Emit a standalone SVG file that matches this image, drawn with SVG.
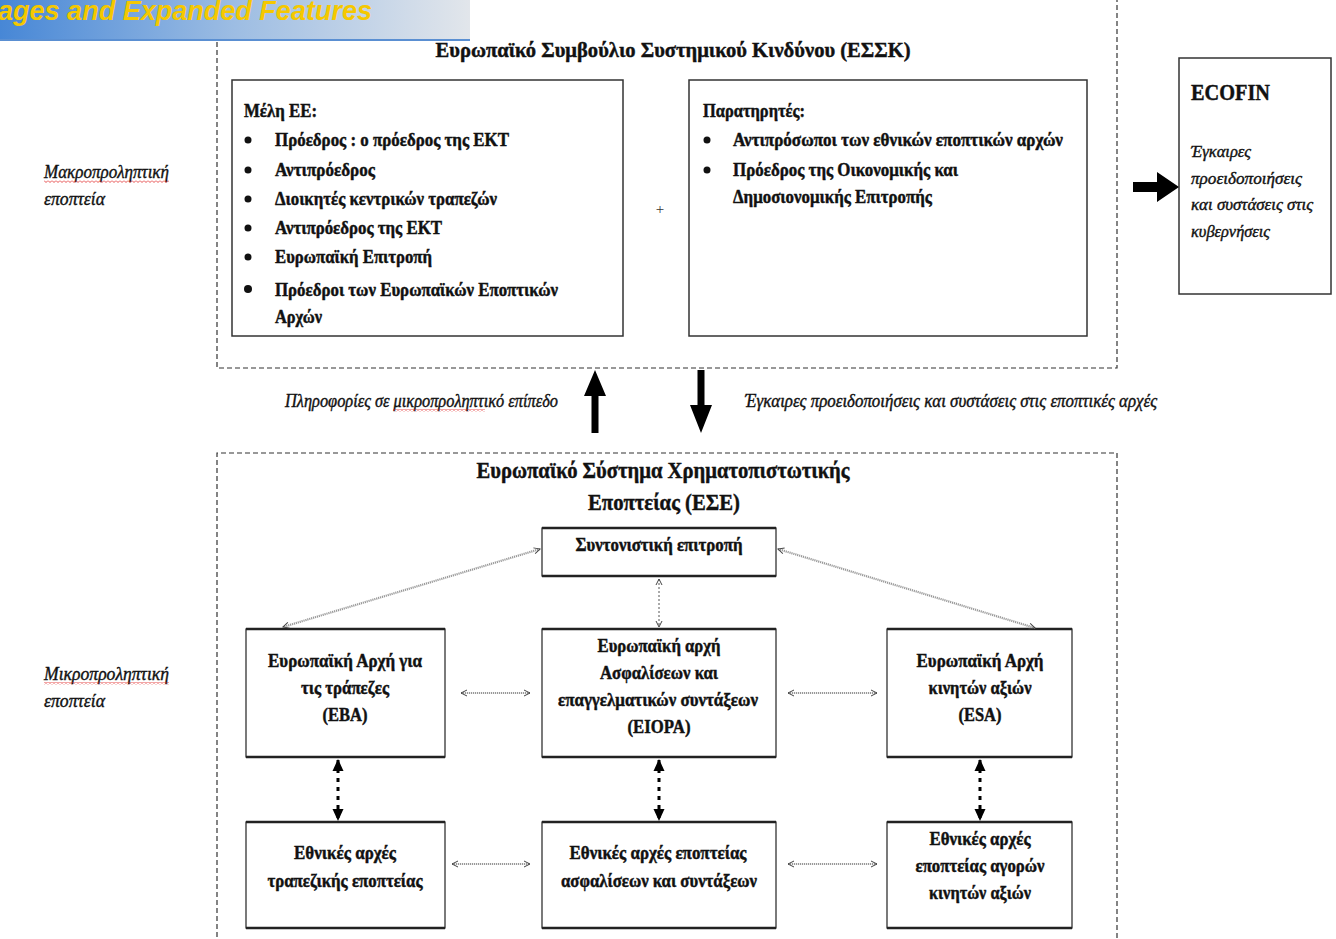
<svg xmlns="http://www.w3.org/2000/svg" width="1336" height="939" viewBox="0 0 1336 939">
<defs>
<linearGradient id="bn" x1="0" y1="0" x2="1" y2="0">
<stop offset="0" stop-color="#4787d6"/>
<stop offset="0.5" stop-color="#9dbde3"/>
<stop offset="1" stop-color="#e2e6eb"/>
</linearGradient>
<pattern id="wv" x="0" y="0" width="4" height="3" patternUnits="userSpaceOnUse">
<path d="M0,0.5 L2,2.5 L4,0.5" fill="none" stroke="#e02020" stroke-width="0.8"/>
</pattern>
<marker id="oa" viewBox="0 0 8 8" refX="7" refY="4" markerWidth="8" markerHeight="8" markerUnits="userSpaceOnUse" orient="auto-start-reverse">
<path d="M1,1 L7,4 L1,7" fill="none" stroke="#444" stroke-width="1"/>
</marker>
<marker id="fa" viewBox="0 0 12 14" refX="11" refY="6" markerWidth="12" markerHeight="14" markerUnits="userSpaceOnUse" orient="auto-start-reverse">
<path d="M0,0.5 L12,6 L0,11.5 Z" fill="#000"/>
</marker>
</defs>
<style>
.dash{fill:none;stroke:#333;stroke-width:1.2;stroke-dasharray:5 3}
.box{fill:#fff;stroke:#333;stroke-width:1.5}
.bx{fill:#fff;stroke:#222;stroke-width:1.2}
.edge{stroke:#222;stroke-width:2.5}
.t{font-family:"Liberation Serif","DejaVu Serif",serif;font-weight:bold;fill:#111;stroke:#111;stroke-width:0.45}
.s19{font-size:19px}
.c{text-anchor:middle}
.it{font-family:"Liberation Serif","DejaVu Serif",serif;font-style:italic;fill:#111;stroke:#111;stroke-width:0.4}
.bul{fill:#111}
.dot{fill:none;stroke:#999;stroke-width:2.2;stroke-dasharray:1.2 0.8}
.bold{fill:none;stroke:#000;stroke-width:3;stroke-dasharray:4 5}
.wave{fill:url(#wv)}
</style>
<rect width="1336" height="939" fill="#fff"/>

<g id="banner">
<rect x="0" y="0" width="470" height="40" fill="url(#bn)"/>
<rect x="0" y="39" width="470" height="2" fill="#5a8fd2"/>
<text x="-2" y="20" font-family="Liberation Sans, Arial, sans-serif" font-weight="bold" font-style="italic" font-size="27" fill="#f5c800" textLength="374" lengthAdjust="spacingAndGlyphs">ages and Expanded Features</text>
</g>

<g id="esrb-frame">
<path class="dash" d="M217,42 L217,368 L1117,368 L1117,0"/>
<text class="t c" x="673" y="57" font-size="22" textLength="475" lengthAdjust="spacingAndGlyphs">Ευρωπαϊκό Συμβούλιο Συστημικού Κινδύνου (ΕΣΣΚ)</text>
</g>

<g id="macro-label">
<text class="it" x="44" y="178" font-size="19" textLength="125" lengthAdjust="spacingAndGlyphs">Μακροπροληπτική</text>
<text class="it" x="44" y="205" font-size="19" textLength="61" lengthAdjust="spacingAndGlyphs">εποπτεία</text>
<rect class="wave" x="44" y="180" width="125" height="3"/>
</g>

<g id="members">
<rect class="box" x="232" y="80" width="391" height="256"/>
<text class="t s19" x="244" y="117" textLength="73" lengthAdjust="spacingAndGlyphs">Μέλη ΕΕ:</text>
<circle class="bul" cx="248" cy="140" r="3.5"/>
<circle class="bul" cx="248" cy="170" r="3.5"/>
<circle class="bul" cx="248" cy="199" r="3.5"/>
<circle class="bul" cx="248" cy="228" r="3.5"/>
<circle class="bul" cx="248" cy="257" r="3.5"/>
<circle class="bul" cx="248" cy="289" r="4"/>
<text class="t s19" x="275" y="146" textLength="234" lengthAdjust="spacingAndGlyphs">Πρόεδρος : ο πρόεδρος της ΕΚΤ</text>
<text class="t s19" x="275" y="176" textLength="100" lengthAdjust="spacingAndGlyphs">Αντιπρόεδρος</text>
<text class="t s19" x="275" y="205" textLength="222" lengthAdjust="spacingAndGlyphs">Διοικητές κεντρικών  τραπεζών</text>
<text class="t s19" x="275" y="234" textLength="167" lengthAdjust="spacingAndGlyphs">Αντιπρόεδρος της ΕΚΤ</text>
<text class="t s19" x="275" y="263" textLength="157" lengthAdjust="spacingAndGlyphs">Ευρωπαϊκή Επιτροπή</text>
<text class="t s19" x="275" y="296" textLength="283" lengthAdjust="spacingAndGlyphs">Πρόεδροι των Ευρωπαϊκών  Εποπτικών</text>
<text class="t s19" x="275" y="323" textLength="47" lengthAdjust="spacingAndGlyphs">Αρχών</text>
</g>

<g id="plus">
<text x="660" y="214" font-family="Liberation Serif, serif" font-size="15" fill="#333" text-anchor="middle">+</text>
</g>

<g id="observers">
<rect class="box" x="689" y="80" width="398" height="256"/>
<text class="t s19" x="703" y="117" textLength="102" lengthAdjust="spacingAndGlyphs">Παρατηρητές:</text>
<circle class="bul" cx="707" cy="140" r="3.5"/>
<circle class="bul" cx="707" cy="170" r="3.5"/>
<text class="t s19" x="733" y="146" textLength="330" lengthAdjust="spacingAndGlyphs">Αντιπρόσωποι των εθνικών εποπτικών αρχών</text>
<text class="t s19" x="733" y="176" textLength="225" lengthAdjust="spacingAndGlyphs">Πρόεδρος της Οικονομικής και</text>
<text class="t s19" x="733" y="203" textLength="199" lengthAdjust="spacingAndGlyphs">Δημοσιονομικής Επιτροπής</text>
</g>

<g id="ecofin">
<rect class="box" x="1179" y="58" width="152" height="236"/>
<text class="t" x="1191" y="100" font-size="24" textLength="79" lengthAdjust="spacingAndGlyphs">ECOFIN</text>
<text class="it" x="1191" y="157" font-size="17" textLength="60" lengthAdjust="spacingAndGlyphs">Έγκαιρες</text>
<text class="it" x="1191" y="184" font-size="17" textLength="111" lengthAdjust="spacingAndGlyphs">προειδοποιήσεις</text>
<text class="it" x="1191" y="210" font-size="17" textLength="122" lengthAdjust="spacingAndGlyphs">και συστάσεις  στις</text>
<text class="it" x="1191" y="237" font-size="17" textLength="79" lengthAdjust="spacingAndGlyphs">κυβερνήσεις</text>
</g>

<g id="flow-labels">
<text class="it" x="285" y="407" font-size="18" textLength="273" lengthAdjust="spacingAndGlyphs">Πληροφορίες σε μικροπροληπτικό επίπεδο</text>
<rect class="wave" x="393" y="409" width="92" height="3"/>
<text class="it" x="745" y="407" font-size="18" textLength="412" lengthAdjust="spacingAndGlyphs">Έγκαιρες προειδοποιήσεις και συστάσεις στις εποπτικές αρχές</text>
</g>

<g id="micro-label">
<text class="it" x="44" y="680" font-size="19" textLength="125" lengthAdjust="spacingAndGlyphs">Μικροπροληπτική</text>
<text class="it" x="44" y="707" font-size="19" textLength="61" lengthAdjust="spacingAndGlyphs">εποπτεία</text>
<rect class="wave" x="44" y="682" width="125" height="3"/>
</g>

<g id="esfs-frame">
<path class="dash" d="M217,945 L217,453 L1117,453 L1117,945"/>
<text class="t c" x="663" y="478" font-size="24" textLength="373" lengthAdjust="spacingAndGlyphs">Ευρωπαϊκό Σύστημα Χρηματοπιστωτικής</text>
<text class="t c" x="664" y="510" font-size="24" textLength="152" lengthAdjust="spacingAndGlyphs">Εποπτείας (ΕΣΕ)</text>
</g>

<g id="joint-committee">
<rect class="bx" x="542" y="528" width="234" height="48"/>
<line class="edge" x1="542" y1="528" x2="776" y2="528"/><line class="edge" x1="542" y1="576" x2="776" y2="576"/>
<text class="t s19 c" x="659" y="551" textLength="167" lengthAdjust="spacingAndGlyphs">Συντονιστική επιτροπή</text>
</g>

<g id="eba">
<rect class="bx" x="246" y="629" width="199" height="128"/>
<line class="edge" x1="246" y1="629" x2="445" y2="629"/><line class="edge" x1="246" y1="757" x2="445" y2="757"/>
<text class="t s19 c" x="345" y="667" textLength="154" lengthAdjust="spacingAndGlyphs">Ευρωπαϊκή Αρχή για</text>
<text class="t s19 c" x="345" y="694" textLength="88" lengthAdjust="spacingAndGlyphs">τις τράπεζες</text>
<text class="t s19 c" x="345" y="721" textLength="45" lengthAdjust="spacingAndGlyphs">(EBA)</text>
</g>

<g id="eiopa">
<rect class="bx" x="542" y="629" width="234" height="128"/>
<line class="edge" x1="542" y1="629" x2="776" y2="629"/><line class="edge" x1="542" y1="757" x2="776" y2="757"/>
<text class="t s19 c" x="659" y="652" textLength="123" lengthAdjust="spacingAndGlyphs">Ευρωπαϊκή αρχή</text>
<text class="t s19 c" x="659" y="679" textLength="118" lengthAdjust="spacingAndGlyphs">Ασφαλίσεων και</text>
<text class="t s19 c" x="658" y="706" textLength="200" lengthAdjust="spacingAndGlyphs">επαγγελματικών  συντάξεων</text>
<text class="t s19 c" x="659" y="733" textLength="63" lengthAdjust="spacingAndGlyphs">(EIOPA)</text>
</g>

<g id="esa">
<rect class="bx" x="887" y="629" width="185" height="128"/>
<line class="edge" x1="887" y1="629" x2="1072" y2="629"/><line class="edge" x1="887" y1="757" x2="1072" y2="757"/>
<text class="t s19 c" x="980" y="667" textLength="127" lengthAdjust="spacingAndGlyphs">Ευρωπαϊκή Αρχή</text>
<text class="t s19 c" x="980" y="694" textLength="103" lengthAdjust="spacingAndGlyphs">κινητών αξιών</text>
<text class="t s19 c" x="980" y="721" textLength="43" lengthAdjust="spacingAndGlyphs">(ESA)</text>
</g>

<g id="nat-banking">
<rect class="bx" x="246" y="822" width="199" height="106"/>
<line class="edge" x1="246" y1="822" x2="445" y2="822"/><line class="edge" x1="246" y1="928" x2="445" y2="928"/>
<text class="t s19 c" x="345" y="859" textLength="102" lengthAdjust="spacingAndGlyphs">Εθνικές αρχές</text>
<text class="t s19 c" x="345" y="887" textLength="155" lengthAdjust="spacingAndGlyphs">τραπεζικής εποπτείας</text>
</g>

<g id="nat-insurance">
<rect class="bx" x="542" y="822" width="234" height="106"/>
<line class="edge" x1="542" y1="822" x2="776" y2="822"/><line class="edge" x1="542" y1="928" x2="776" y2="928"/>
<text class="t s19 c" x="658" y="859" textLength="177" lengthAdjust="spacingAndGlyphs">Εθνικές αρχές εποπτείας</text>
<text class="t s19 c" x="659" y="887" textLength="196" lengthAdjust="spacingAndGlyphs">ασφαλίσεων και συντάξεων</text>
</g>

<g id="nat-securities">
<rect class="bx" x="887" y="822" width="185" height="106"/>
<line class="edge" x1="887" y1="822" x2="1072" y2="822"/><line class="edge" x1="887" y1="928" x2="1072" y2="928"/>
<text class="t s19 c" x="980" y="845" textLength="101" lengthAdjust="spacingAndGlyphs">Εθνικές αρχές</text>
<text class="t s19 c" x="980" y="872" textLength="129" lengthAdjust="spacingAndGlyphs">εποπτείας αγορών</text>
<text class="t s19 c" x="980" y="899" textLength="102" lengthAdjust="spacingAndGlyphs">κινητών αξιών</text>
</g>

<g id="connectors">
<path d="M1133,182 H1157 V172 L1179,187 L1157,202 V192 H1133 Z" fill="#000"/>
<path d="M591.5,433 V396 H584 L595,370 L606,396 H598.5 V433 Z" fill="#000"/>
<path d="M697.5,370 V405 H690 L701,433 L712,405 H704.5 V370 Z" fill="#000"/>
<line class="dot" x1="540" y1="549" x2="283" y2="627" stroke-width="1.6" marker-start="url(#oa)" marker-end="url(#oa)"/>
<line class="dot" x1="778" y1="549" x2="1035" y2="628" stroke-width="1.6" marker-start="url(#oa)" marker-end="url(#oa)"/>
<line x1="659" y1="579" x2="659" y2="627" fill="none" stroke="#555" stroke-width="1" stroke-dasharray="2 2" marker-start="url(#oa)" marker-end="url(#oa)"/>
<line class="dot" x1="461" y1="693" x2="530" y2="693" marker-start="url(#oa)" marker-end="url(#oa)"/>
<line class="dot" x1="788" y1="693" x2="877" y2="693" marker-start="url(#oa)" marker-end="url(#oa)"/>
<line class="dot" x1="452" y1="864" x2="530" y2="864" marker-start="url(#oa)" marker-end="url(#oa)"/>
<line class="dot" x1="788" y1="864" x2="877" y2="864" marker-start="url(#oa)" marker-end="url(#oa)"/>
<line class="bold" x1="338" y1="760" x2="338" y2="820" marker-start="url(#fa)" marker-end="url(#fa)"/>
<line class="bold" x1="659" y1="760" x2="659" y2="820" marker-start="url(#fa)" marker-end="url(#fa)"/>
<line class="bold" x1="980" y1="760" x2="980" y2="820" marker-start="url(#fa)" marker-end="url(#fa)"/>
</g>
</svg>
